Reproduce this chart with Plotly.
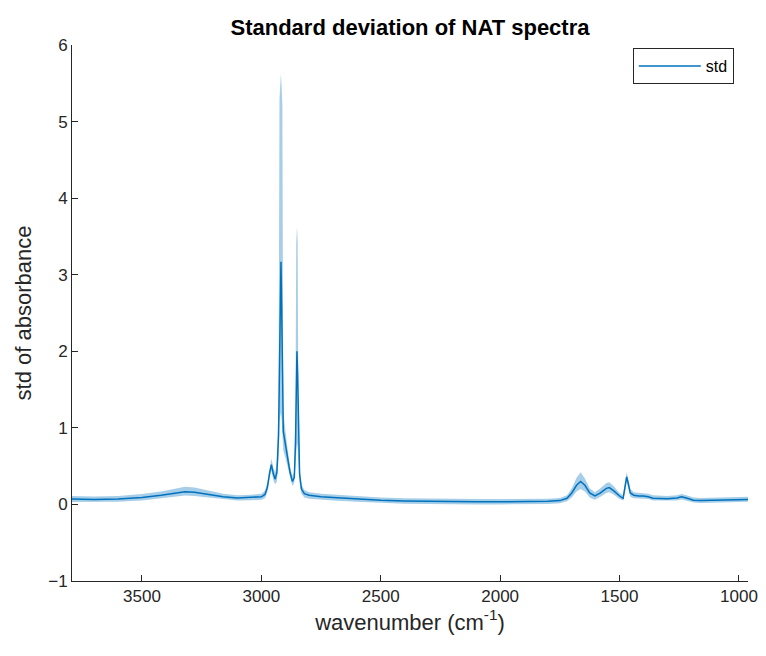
import plotly.graph_objects as go

# wavenumber (cm^-1)
wavenumber = [3800, 3700, 3600, 3500, 3420, 3360, 3320, 3280, 3220, 3160, 3100, 3040, 3000,
              2985, 2975, 2965, 2958, 2950, 2942, 2935, 2928, 2924, 2921, 2918, 2915, 2912,
              2908, 2900, 2890, 2880, 2870, 2862, 2857, 2854, 2851, 2848, 2845, 2840, 2832,
              2820, 2800, 2750, 2700, 2600, 2500, 2400, 2300, 2200, 2100, 2000, 1900, 1800,
              1750, 1720, 1700, 1680, 1663, 1645, 1625, 1603, 1580, 1555, 1543, 1525, 1500,
              1485, 1476, 1470, 1464, 1455, 1440, 1420, 1400, 1380, 1360, 1300, 1260, 1240,
              1220, 1190, 1160, 1100, 1050, 1000, 962]

std_mean = [0.07, 0.065, 0.07, 0.09, 0.12, 0.15, 0.165, 0.16, 0.13, 0.10, 0.085, 0.09, 0.10,
            0.13, 0.22, 0.42, 0.52, 0.40, 0.33, 0.42, 0.90, 1.80, 2.80, 3.17, 2.60, 1.50,
            0.95, 0.80, 0.60, 0.42, 0.30, 0.35, 0.80, 1.50, 2.00, 1.70, 0.90, 0.40, 0.20,
            0.14, 0.12, 0.10, 0.09, 0.07, 0.055, 0.045, 0.04, 0.035, 0.035, 0.035, 0.035, 0.04,
            0.05, 0.08, 0.15, 0.25, 0.30, 0.25, 0.15, 0.11, 0.15, 0.21, 0.22, 0.18, 0.11,
            0.08, 0.25, 0.36, 0.28, 0.15, 0.12, 0.11, 0.11, 0.10, 0.08, 0.075, 0.085, 0.10,
            0.085, 0.055, 0.05, 0.055, 0.06, 0.065, 0.065]

std_lower = [0.03, 0.03, 0.035, 0.05, 0.075, 0.10, 0.115, 0.11, 0.09, 0.065, 0.05, 0.055, 0.06,
             0.08, 0.16, 0.35, 0.44, 0.32, 0.26, 0.30, 0.60, 1.10, 1.20, 1.20, 1.10, 0.90,
             0.70, 0.62, 0.48, 0.34, 0.24, 0.28, 0.55, 0.75, 0.80, 0.75, 0.50, 0.28, 0.14,
             0.09, 0.075, 0.06, 0.05, 0.035, 0.02, 0.01, 0.005, 0.0, 0.0, 0.0, 0.0, 0.005,
             0.015, 0.04, 0.09, 0.17, 0.20, 0.17, 0.09, 0.06, 0.10, 0.15, 0.16, 0.13, 0.07,
             0.05, 0.18, 0.30, 0.22, 0.10, 0.08, 0.075, 0.075, 0.07, 0.05, 0.045, 0.05, 0.065,
             0.05, 0.025, 0.02, 0.025, 0.03, 0.035, 0.035]

std_upper = [0.11, 0.105, 0.11, 0.135, 0.17, 0.21, 0.23, 0.22, 0.18, 0.14, 0.12, 0.125, 0.14,
             0.18, 0.28, 0.50, 0.60, 0.48, 0.42, 0.55, 1.30, 5.30, 5.55, 5.63, 5.45, 5.20,
             1.20, 0.95, 0.72, 0.50, 0.37, 0.43, 1.30, 3.40, 3.62, 3.45, 1.30, 0.50, 0.26,
             0.19, 0.16, 0.14, 0.13, 0.11, 0.09, 0.08, 0.075, 0.07, 0.07, 0.07, 0.07, 0.075,
             0.085, 0.12, 0.21, 0.35, 0.42, 0.34, 0.21, 0.16, 0.21, 0.28, 0.29, 0.24, 0.15,
             0.12, 0.32, 0.42, 0.34, 0.20, 0.16, 0.15, 0.15, 0.14, 0.12, 0.11, 0.12, 0.135,
             0.12, 0.09, 0.085, 0.09, 0.095, 0.10, 0.10]

x_ticks = [3500, 3000, 2500, 2000, 1500, 1000]
y_ticks = [-1, 0, 1, 2, 3, 4, 5, 6]

blue = "rgb(0,114,189)"
band = "rgba(0,114,189,0.35)"
axis_col = "#262626"
font_fam = "Liberation Sans, Arial, Helvetica, sans-serif"

W, H = 758, 648

fig = go.Figure()
fig.add_trace(go.Scatter(x=wavenumber, y=std_lower, mode="lines", line=dict(width=0),
                         showlegend=False, hoverinfo="skip"))
fig.add_trace(go.Scatter(x=wavenumber, y=std_upper, mode="lines", line=dict(width=0),
                         fill="tonexty", fillcolor=band, showlegend=False, hoverinfo="skip"))
fig.add_trace(go.Scatter(x=wavenumber, y=std_mean, mode="lines", name="std",
                         line=dict(color=blue, width=1.5)))

fig.update_layout(
    width=W, height=H,
    paper_bgcolor="white", plot_bgcolor="white",
    margin=dict(l=64, r=18, t=37, b=75),
    font=dict(family=font_fam, color=axis_col, size=17),
    title=dict(text="<b>Standard deviation of NAT spectra</b>", x=(402) / W, xanchor="center",
               y=1 - 19 / H, yanchor="middle", font=dict(size=22, color="black")),
    xaxis=dict(range=[3793, 962], tickvals=x_ticks, ticks="inside", ticklen=6,
               tickcolor=axis_col, showline=True, linecolor=axis_col, linewidth=1,
               showgrid=False, zeroline=False, mirror=False, automargin=False,
               title=dict(text="wavenumber (cm<sup>-1</sup>)", font=dict(size=22), standoff=8),
               tickfont=dict(size=17)),
    yaxis=dict(range=[-1, 6], tickvals=y_ticks, ticks="inside", ticklen=6,
               tickcolor=axis_col, showline=True, linecolor=axis_col, linewidth=1,
               showgrid=False, zeroline=False, mirror=False, automargin=False,
               title=dict(text="std of absorbance", font=dict(size=22), standoff=10),
               tickfont=dict(size=17)),
    legend=dict(x=0.979, xanchor="right", y=0.994, yanchor="top",
                bordercolor=axis_col, borderwidth=1, bgcolor="white", itemwidth=62,
                font=dict(size=16, color="black")),
    showlegend=True,
)

fig.write_html("out.html")
